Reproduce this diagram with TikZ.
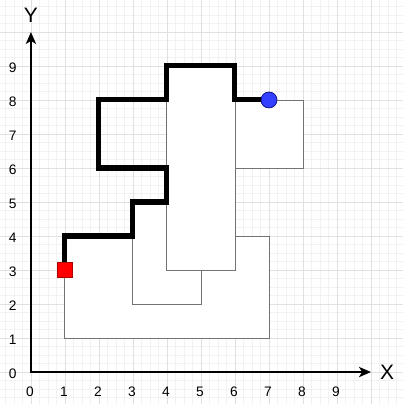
\documentclass[tikz,border=0pt]{standalone}
\usepackage{fontspec}
\setmainfont{Liberation Sans}
\usetikzlibrary{arrows.meta}
\begin{document}
\begin{tikzpicture}[x=1cm,y=1cm,
  box/.style={draw=boxline,fill=white,line width=0.8pt},
  route/.style={line width=4.2pt,line join=miter},
  axis/.style={line width=1.5pt,{Stealth[length=10pt,width=8.5pt,inset=2.5pt]}-{Stealth[length=10pt,width=8.5pt,inset=2.5pt]}},
  ticklabel/.style={font=\fontsize{11.5}{14}\selectfont,inner sep=0pt},
  axislabel/.style={font=\fontsize{17.5}{20}\selectfont,inner sep=0pt},
  startmark/.style={rectangle,draw=startdark,fill=startred,line width=0.6pt,minimum size=0.46cm,inner sep=0pt},
  goalmark/.style={circle,draw=goaldark,fill=goalblue,line width=0.6pt,minimum size=0.47cm,inner sep=0pt}]
\definecolor{gridminor}{rgb}{0.95,0.95,0.95}
\definecolor{gridmajor}{rgb}{0.88,0.88,0.88}
\definecolor{boxline}{rgb}{0.45,0.45,0.45}
\definecolor{startred}{rgb}{1,0,0}
\definecolor{startdark}{rgb}{0.7,0,0}
\definecolor{goalblue}{rgb}{0.2,0.25,1}
\definecolor{goaldark}{rgb}{0.05,0.05,0.5}
\useasboundingbox (-0.91,-0.94) rectangle (10.94,10.94);
\clip (-0.91,-0.94) rectangle (10.94,10.94);
\draw[gridminor,line width=0.5pt,step=0.25] (-1,-1) grid (11,11);
\draw[gridmajor,line width=0.6pt,step=1] (-1,-1) grid (11,11);
\coordinate[] (P1) at (1,3);
\coordinate[] (P2) at (1,4);
\coordinate[] (P3) at (3,4);
\coordinate[] (P4) at (3,5);
\coordinate[] (P5) at (4,5);
\coordinate[] (P6) at (4,6);
\coordinate[] (P7) at (2,6);
\coordinate[] (P8) at (2,8);
\coordinate[] (P9) at (4,8);
\coordinate[] (P10) at (4,9);
\coordinate[] (P11) at (6,9);
\coordinate[] (P12) at (6,8);
\coordinate[] (P13) at (7,8);
\draw[box] (1,1) rectangle (7,4);
\draw[box] (3,2) rectangle (5,5);
\draw[box] (6,6) rectangle (8,8);
\draw[box] (4,3) rectangle (6,9);
\draw[route] (P1)--(P2)--(P3)--(P4)--(P5)--(P6)--(P7)--(P8)--(P9)--(P10)--(P11)--(P12)--(P13);
\draw[axis] (0,10)--(0,0)--(10,0);
\foreach \i in {0,...,9}{
  \node[ticklabel] (xt\i) at (\i-0.03,-0.59) {\i};
  \node[ticklabel] (yt\i) at (-0.54,\i-0.05) {\i};
}
\node[axislabel] (xname) at (10.47,0) {X};
\node[axislabel] (yname) at (0,10.5) {Y};
\node[startmark] (start) at (P1) {};
\node[goalmark] (goal) at (P13) {};
\end{tikzpicture}
\end{document}
